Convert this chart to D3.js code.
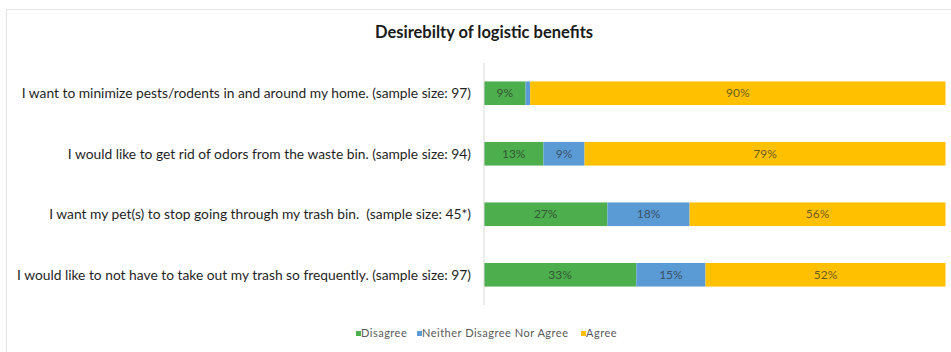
<!DOCTYPE html>
<html>
<head>
<meta charset="utf-8">
<script src="https://cdn.jsdelivr.net/npm/d3@7"></script>
<style>
  html, body { margin: 0; padding: 0; background: #fff; }
  svg { display: block; }
  text { white-space: pre; }
</style>
</head>
<body>
<svg id="chart" width="951" height="352"></svg>
<script>
// Survey statements (top to bottom)
const categories = [
  "I want to minimize pests/rodents in and around my home. (sample size: 97)",
  "I would like to get rid of odors from the waste bin. (sample size: 94)",
  "I want my pet(s) to stop going through my trash bin.  (sample size: 45*)",
  "I would like to not have to take out my trash so frequently. (sample size: 97)"
];
// Response shares, percent
const disagree = [9, 13, 27, 33];
const neither  = [1, 9, 18, 15];
const agree    = [90, 79, 56, 52];
// Segments that get a value label
const showNeitherLabel = [false, true, true, true];
const seriesNames = ["Disagree", "Neither Disagree Nor Agree", "Agree"];
const colors = ["#4cae4c", "#5b9bd5", "#ffc000"];
const title = "Desirebilty of logistic benefits";

const svg = d3.select("#chart");
const W = 951, H = 352;
const font = "Lato, 'Open Sans', sans-serif";

// chart frame
svg.append("rect")
  .attr("x", 6.5).attr("y", 9.5)
  .attr("width", W + 10).attr("height", H + 10)
  .attr("fill", "#fff")
  .attr("stroke", "#e3e3e3");

svg.append("text")
  .attr("x", 484).attr("y", 38)
  .attr("text-anchor", "middle")
  .attr("font-family", font)
  .attr("font-weight", "bold")
  .attr("font-size", 16.5)
  .attr("fill", "#1a1a1a")
  .text(title);

const x = d3.scaleLinear().domain([0, 100]).range([484, 945.5]);
const y = d3.scaleBand().domain(categories).range([63, 305])
  .paddingInner(0.61).paddingOuter(0.305);

// build stacked rows, normalised to each row's total
const rows = categories.map((c, i) => ({
  cat: c, Disagree: disagree[i], Neither: neither[i], Agree: agree[i], idx: i
}));
const keys = ["Disagree", "Neither", "Agree"];
const stack = d3.stack().keys(keys).offset(d3.stackOffsetExpand);
const layers = stack(rows);

const g = svg.append("g");
layers.forEach((layer, li) => {
  g.selectAll(null).data(layer).enter().append("rect")
    .attr("x", d => x(d[0] * 100))
    .attr("width", d => x(d[1] * 100) - x(d[0] * 100))
    .attr("y", d => y(d.data.cat))
    .attr("height", y.bandwidth())
    .attr("fill", colors[li]);

  g.selectAll(null).data(layer.filter(d => li !== 1 || showNeitherLabel[d.data.idx]))
    .enter().append("text")
    .attr("x", d => (x(d[0] * 100) + x(d[1] * 100)) / 2)
    .attr("y", d => y(d.data.cat) + y.bandwidth() / 2)
    .attr("dy", "0.35em")
    .attr("text-anchor", "middle")
    .attr("font-family", font)
    .attr("font-size", 12)
    .attr("fill", "#2b2b2b")
    .attr("fill-opacity", 0.7)
    .text(d => d.data[keys[li]] + "%");
});

// category axis line
svg.append("line")
  .attr("x1", 484).attr("x2", 484)
  .attr("y1", 63).attr("y2", 305)
  .attr("stroke", "#d9d9d9");

// category labels
svg.selectAll(null).data(categories).enter().append("text")
  .attr("x", 471)
  .attr("y", d => y(d) + y.bandwidth() / 2)
  .attr("dy", "0.35em")
  .attr("text-anchor", "end")
  .attr("font-family", font)
  .attr("font-size", 13.8)
  .attr("fill", "#1f1f1f")
  .text(d => d);

// legend
const legendY = 337;
const legendItems = [
  { name: seriesNames[0], color: colors[0], x: 356 },
  { name: seriesNames[1], color: colors[1], x: 417 },
  { name: seriesNames[2], color: colors[2], x: 581 }
];
const lg = svg.selectAll(null).data(legendItems).enter().append("g")
  .attr("transform", d => `translate(${d.x},${legendY})`);
lg.append("rect").attr("x", 0).attr("y", -6).attr("width", 5).attr("height", 5)
  .attr("fill", d => d.color);
lg.append("text").attr("x", 5).attr("y", 0)
  .attr("font-family", font)
  .attr("font-size", 11)
  .attr("letter-spacing", 0.5)
  .attr("fill", "#595959")
  .text(d => d.name);
</script>
</body>
</html>
